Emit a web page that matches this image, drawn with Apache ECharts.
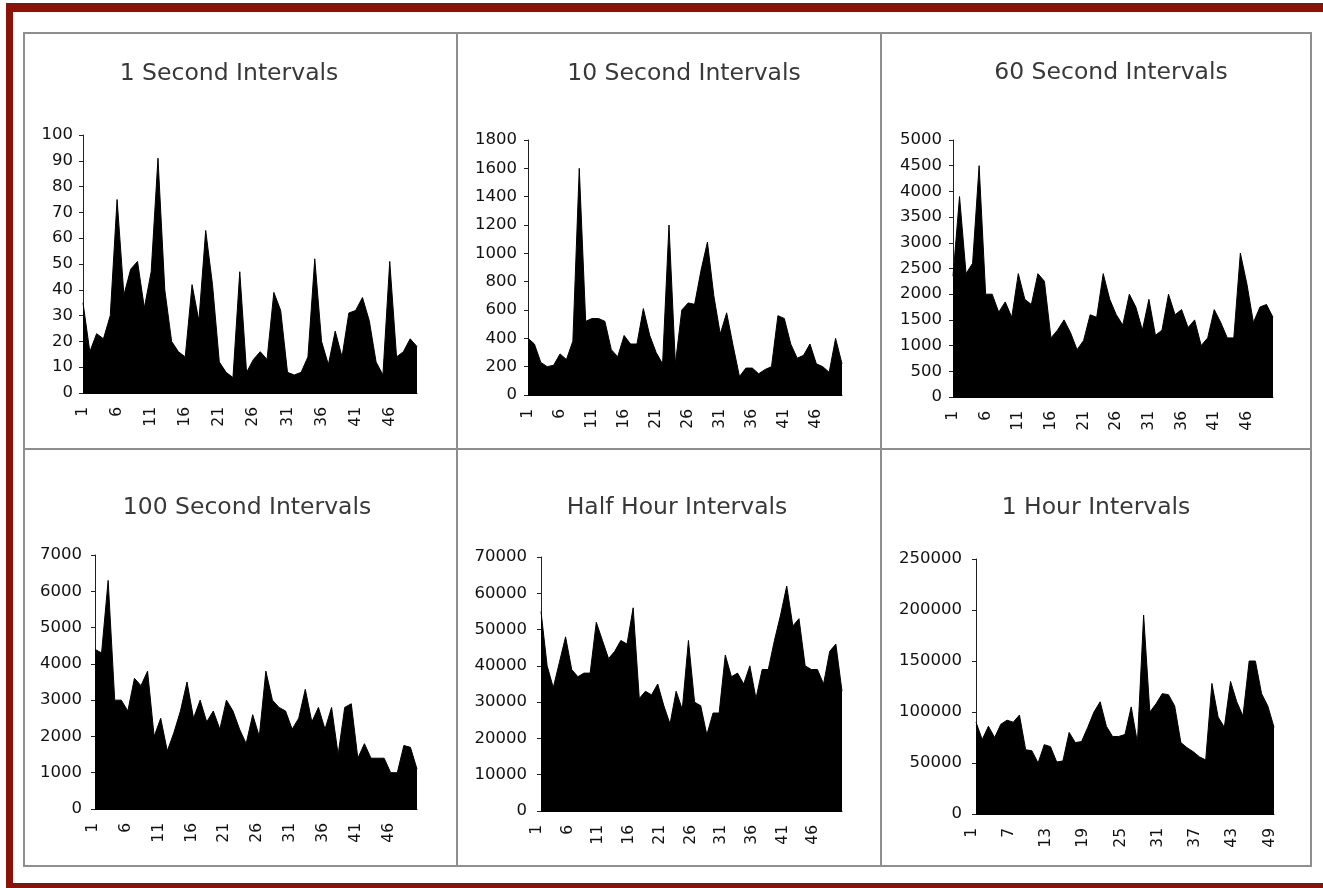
<!DOCTYPE html>
<html>
<head>
<meta charset="utf-8">
<script src="https://cdn.jsdelivr.net/npm/echarts@6/dist/echarts.min.js"></script>
<style>
  html, body { margin: 0; padding: 0; background: #ffffff; }
  #chart { width: 1323px; height: 888px; }
</style>
</head>
<body>
<div id="chart"></div>
<script>
// Traffic counts sampled at six aggregation levels

const categories50 = ['1','2','3','4','5','6','7','8','9','10','11','12','13','14','15','16','17','18','19','20',
  '21','22','23','24','25','26','27','28','29','30','31','32','33','34','35','36','37','38','39','40',
  '41','42','43','44','45','46','47','48','49','50'];
const categories49 = categories50.slice(0, 49);

const oneSecond = [35,16,23,21,30,75,38,48,51,33, 47,91,40,20,16,14,42,28,63,42,
  12,8,6,47,8,13,16,13,39,32, 8,7,8,14,52,20,11,24,14,31,
  32,37,28,12,7,51,14,16,21,18];

const tenSecond = [400,360,230,200,210,290,250,380,1600,520, 540,540,520,320,270,420,360,360,610,420,
  300,220,1200,220,600,650,640,880,1080,700, 430,580,350,130,190,190,150,180,200,560,
  540,360,260,280,360,220,200,160,400,220];

const sixtySecond = [2350,3900,2400,2600,4500,2000,2000,1650,1850,1550, 2400,1900,1800,2400,2250,1150,1300,1500,1250,920,
  1100,1600,1550,2400,1900,1600,1400,2000,1750,1300, 1900,1200,1300,2000,1600,1700,1350,1500,1000,1150,
  1700,1450,1150,1150,2800,2200,1450,1750,1800,1550];

const hundredSecond = [4400,4300,6300,3000,3000,2700,3600,3400,3800,2000, 2500,1600,2100,2700,3500,2500,3000,2400,2700,2200,
  3000,2700,2200,1800,2600,2000,3800,3000,2800,2700, 2200,2500,3300,2400,2800,2200,2800,1500,2800,2900,
  1400,1800,1400,1400,1400,1000,1000,1750,1700,1100];

const halfHour = [55000,40000,34000,41000,48000,39000,37000,38000,38000,52000, 47000,42000,44000,47000,46000,56000,31000,33000,32000,35000,
  29000,24000,33000,28000,47000,30000,29000,21000,27000,27000, 43000,37000,38000,35000,40000,31000,39000,39000,47000,54000,
  62000,51000,53000,40000,39000,39000,35000,44000,46000,33000];

const oneHour = [90000,73000,86000,75000,88000,92000,90000,97000,63000,62000, 50000,68000,66000,51000,52000,80000,70000,71000,85000,100000,
  110000,86000,76000,76000,78000,105000,70000,195000,100000,108000, 118000,117000,106000,70000,65000,61000,56000,53000,128000,95000,
  85000,130000,110000,96000,150000,150000,118000,106000,85000];

const titles = ['1 Second Intervals', '10 Second Intervals', '60 Second Intervals',
  '100 Second Intervals', 'Half Hour Intervals', '1 Hour Intervals'];
const yMax = [100, 1800, 5000, 7000, 70000, 250000];
const yStep = [10, 200, 500, 1000, 10000, 50000];

// tx/ty: title centre; yGap: value-label distance from the axis;
// lh: line box of the rotated category labels (smaller box nudges them left)
const panels = [
  { cats: categories50, values: oneSecond,     every: 4, box: { left: 83,  top: 135, width: 334, height: 258 }, tx: 229,  ty: 74,  yGap: 10, lh: 0 },
  { cats: categories50, values: tenSecond,     every: 4, box: { left: 528, top: 140, width: 314, height: 255 }, tx: 684,  ty: 74,  yGap: 11, lh: 0 },
  { cats: categories50, values: sixtySecond,   every: 4, box: { left: 953, top: 140, width: 320, height: 257 }, tx: 1111, ty: 73,  yGap: 11, lh: 0 },
  { cats: categories50, values: hundredSecond, every: 4, box: { left: 95,  top: 555, width: 322, height: 254 }, tx: 247,  ty: 508, yGap: 13, lh: 4 },
  { cats: categories50, values: halfHour,      every: 4, box: { left: 541, top: 557, width: 301, height: 254 }, tx: 677,  ty: 508, yGap: 14, lh: 8 },
  { cats: categories49, values: oneHour,       every: 5, box: { left: 976, top: 559, width: 298, height: 255 }, tx: 1096, ty: 508, yGap: 14, lh: 9 }
];

const tickFont = 'DejaVu Sans';
const chart = echarts.init(document.getElementById('chart'), null, { renderer: 'canvas' });

function categoryLabel(p) {
  const label = {
    interval: p.every,
    rotate: 90,
    margin: 14,
    fontFamily: tickFont,
    fontSize: 15.5,
    color: '#111111'
  };
  if (p.lh) {
    label.verticalAlign = 'bottom';
    label.lineHeight = p.lh;
  }
  return label;
}

const option = {
  animation: false,
  backgroundColor: '#ffffff',
  grid: panels.map(p => Object.assign({}, p.box)),
  xAxis: panels.map((p, i) => ({
    type: 'category',
    gridIndex: i,
    data: p.cats,
    boundaryGap: false,
    axisLine: { show: true, lineStyle: { color: '#000000', width: 1 } },
    axisTick: { show: false },
    splitLine: { show: false },
    axisLabel: categoryLabel(p)
  })),
  yAxis: panels.map((p, i) => ({
    type: 'value',
    gridIndex: i,
    min: 0,
    max: yMax[i],
    interval: yStep[i],
    axisLine: { show: true, lineStyle: { color: '#222222', width: 1 } },
    axisTick: { show: true, length: 4, lineStyle: { color: '#222222' } },
    splitLine: { show: false },
    axisLabel: {
      margin: p.yGap,
      fontFamily: tickFont,
      fontSize: 16.5,
      color: '#111111',
      formatter: v => String(v)
    }
  })),
  series: panels.map((p, i) => ({
    type: 'line',
    xAxisIndex: i,
    yAxisIndex: i,
    data: p.values,
    symbol: 'none',
    showSymbol: false,
    lineStyle: { color: '#000000', width: 1 },
    areaStyle: { color: '#000000', opacity: 1 },
    z: 1
  })),
  graphic: [
    // dark red frame
    { type: 'rect', shape: { x: 6, y: 3, width: 1317, height: 9 }, style: { fill: '#8c1207' }, silent: true },
    { type: 'rect', shape: { x: 6, y: 3, width: 7, height: 885 }, style: { fill: '#8c1207' }, silent: true },
    { type: 'rect', shape: { x: 6, y: 883, width: 1317, height: 5 }, style: { fill: '#8c1207' }, silent: true },
    // panel borders
    { type: 'rect', shape: { x: 24, y: 33, width: 1287, height: 833 }, style: { fill: null, stroke: '#8e8e8e', lineWidth: 2 }, silent: true },
    { type: 'line', shape: { x1: 457, y1: 33, x2: 457, y2: 866 }, style: { stroke: '#8e8e8e', lineWidth: 2 }, silent: true },
    { type: 'line', shape: { x1: 881, y1: 33, x2: 881, y2: 866 }, style: { stroke: '#8e8e8e', lineWidth: 2 }, silent: true },
    { type: 'line', shape: { x1: 24, y1: 449, x2: 1311, y2: 449 }, style: { stroke: '#8e8e8e', lineWidth: 2 }, silent: true }
  ].concat(panels.map((p, i) => ({
    // panel headings
    type: 'text',
    x: p.tx,
    y: p.ty,
    silent: true,
    style: {
      text: titles[i],
      align: 'center',
      verticalAlign: 'middle',
      fontFamily: 'DejaVu Sans',
      fontSize: 23.5,
      fill: '#383838'
    }
  })))
};

chart.setOption(option);
</script>
</body>
</html>
